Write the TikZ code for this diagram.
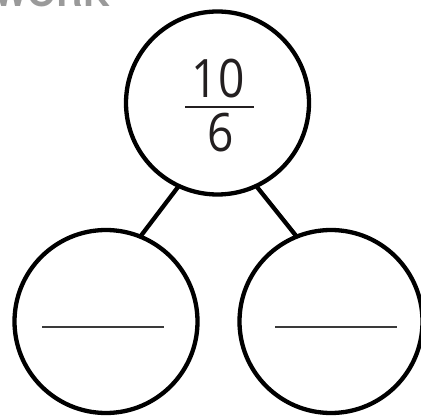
\documentclass[tikz,border=0pt]{standalone}
\usepackage{fontspec}
\newfontfamily\numfont{Open Sans}[FakeStretch=0.87]
\newfontfamily\workfont{TeX Gyre Heros}
\definecolor{ink}{HTML}{231F20}
\definecolor{blankgray}{HTML}{3A3A3A}
\definecolor{workgray}{HTML}{9A9A9A}
\tikzset{
  bubble/.style={circle,draw=black,line width=4.3pt,inner sep=0pt,outer sep=0pt,minimum size=183pt},
  link/.style={draw=black,line width=4.3pt},
  digits/.style={text=ink,inner sep=0pt,font=\numfont\fontsize{53}{60}\selectfont},
  blank/.style={draw=blankgray,line width=2.4pt}
}
\begin{document}
\begin{tikzpicture}[x=1pt,y=-1pt]
\useasboundingbox (0,0) rectangle (421,417);
\node[anchor=base east,inner sep=0pt,text=workgray,font=\workfont\bfseries\fontsize{37}{40}\selectfont] (work) at (110,7) {WORK};
\node[bubble] (top) at (217.5,103) {};
\node[bubble] (left) at (106,321.5) {};
\node[bubble] (right) at (331,321.5) {};
\node[digits,anchor=base] (num) at (218,98) {10};
\node[digits,anchor=base] (den) at (220.5,152) {6};
\draw[draw=ink,line width=2.8pt] (185,107) -- (254,107);
\draw[blank] ([xshift=-64pt,yshift=-5.5pt]left.center) -- ([xshift=58pt,yshift=-5.5pt]left.center);
\draw[blank] ([xshift=-56pt,yshift=-5.5pt]right.center) -- ([xshift=66pt,yshift=-5.5pt]right.center);
\draw[link] (top.245.3) -- (left.68.8);
\draw[link] (top.295.2) -- (right.112.4);
\end{tikzpicture}
\end{document}
